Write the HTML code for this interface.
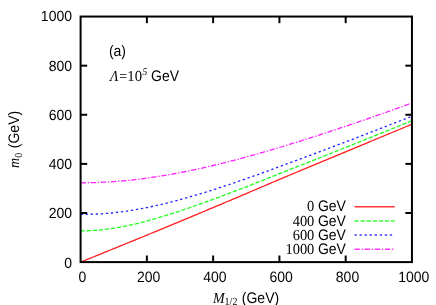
<!DOCTYPE html>
<html><head><meta charset="utf-8"><style>
html,body{margin:0;padding:0;background:#fff;overflow:hidden;}
svg{display:block;will-change:transform;opacity:0.999;}
text{font-family:"Liberation Sans",sans-serif;font-size:14px;fill:#000;text-rendering:geometricPrecision;}
.s{font-family:"Liberation Serif",serif;}
.si{font-family:"Liberation Serif",serif;font-style:italic;}
</style></head><body>
<svg width="436" height="305" viewBox="0 0 436 305">
<rect width="436" height="305" fill="#fff"/>
<polyline points="80.60,262.10 83.91,260.76 87.23,259.41 90.54,258.07 93.85,256.73 97.17,255.38 100.48,254.04 103.79,252.69 107.11,251.35 110.42,250.00 113.73,248.65 117.05,247.30 120.36,245.95 123.68,244.60 126.99,243.25 130.30,241.90 133.62,240.55 136.93,239.19 140.24,237.84 143.56,236.48 146.87,235.12 150.18,233.76 153.50,232.40 156.81,231.03 160.12,229.67 163.44,228.30 166.75,226.93 170.06,225.56 173.38,224.19 176.69,222.81 180.00,221.44 183.32,220.06 186.63,218.68 189.95,217.30 193.26,215.91 196.57,214.53 199.89,213.14 203.20,211.75 206.51,210.36 209.83,208.97 213.14,207.58 216.45,206.18 219.77,204.79 223.08,203.39 226.39,201.99 229.71,200.59 233.02,199.18 236.33,197.78 239.65,196.38 242.96,194.97 246.28,193.56 249.59,192.15 252.90,190.74 256.22,189.33 259.53,187.92 262.84,186.51 266.16,185.10 269.47,183.69 272.78,182.27 276.10,180.86 279.41,179.45 282.72,178.03 286.04,176.62 289.35,175.24 292.66,173.86 295.98,172.48 299.29,171.10 302.60,169.72 305.92,168.34 309.23,166.97 312.55,165.59 315.86,164.21 319.17,162.83 322.49,161.45 325.80,160.07 329.11,158.69 332.43,157.31 335.74,155.94 339.05,154.56 342.37,153.18 345.68,151.80 348.99,150.42 352.31,149.04 355.62,147.66 358.93,146.28 362.25,144.91 365.56,143.53 368.87,142.15 372.19,140.77 375.50,139.39 378.81,138.01 382.13,136.63 385.44,135.25 388.76,133.88 392.07,132.50 395.38,131.12 398.70,129.74 402.01,128.36 405.32,126.98 408.64,125.60 411.95,124.22" fill="none" stroke="#ff0000" stroke-width="1.3" stroke-opacity="0.88"/>
<polyline points="80.60,230.79 83.91,230.80 87.23,230.74 90.54,230.63 93.85,230.45 97.17,230.22 100.48,229.93 103.79,229.58 107.11,229.18 110.42,228.73 113.73,228.23 117.05,227.68 120.36,227.09 123.68,226.45 126.99,225.78 130.30,225.06 133.62,224.31 136.93,223.52 140.24,222.70 143.56,221.85 146.87,220.97 150.18,220.07 153.50,219.14 156.81,218.18 160.12,217.20 163.44,216.20 166.75,215.18 170.06,214.14 173.38,213.09 176.69,212.01 180.00,210.92 183.32,209.82 186.63,208.70 189.95,207.57 193.26,206.42 196.57,205.26 199.89,204.09 203.20,202.91 206.51,201.72 209.83,200.52 213.14,199.31 216.45,198.09 219.77,196.86 223.08,195.63 226.39,194.39 229.71,193.14 233.02,191.88 236.33,190.61 239.65,189.34 242.96,188.07 246.28,186.79 249.59,185.50 252.90,184.21 256.22,182.91 259.53,181.61 262.84,180.30 266.16,178.99 269.47,177.68 272.78,176.36 276.10,175.04 279.41,173.72 282.72,172.39 286.04,171.06 289.35,169.77 292.66,168.47 295.98,167.17 299.29,165.87 302.60,164.56 305.92,163.25 309.23,161.95 312.55,160.64 315.86,159.32 319.17,158.01 322.49,156.69 325.80,155.38 329.11,154.06 332.43,152.74 335.74,151.42 339.05,150.09 342.37,148.77 345.68,147.44 348.99,146.11 352.31,144.79 355.62,143.46 358.93,142.13 362.25,140.80 365.56,139.46 368.87,138.13 372.19,136.79 375.50,135.46 378.81,134.12 382.13,132.79 385.44,131.45 388.76,130.11 392.07,128.77 395.38,127.43 398.70,126.09 402.01,124.74 405.32,123.40 408.64,122.06 411.95,120.71" fill="none" stroke="#00ff00" stroke-width="1.3" stroke-opacity="0.88" stroke-dasharray="4.25 1.83"/>
<polyline points="80.60,214.34 83.91,214.36 87.23,214.33 90.54,214.27 93.85,214.16 97.17,214.02 100.48,213.84 103.79,213.62 107.11,213.36 110.42,213.06 113.73,212.73 117.05,212.36 120.36,211.96 123.68,211.52 126.99,211.04 130.30,210.54 133.62,210.00 136.93,209.43 140.24,208.83 143.56,208.20 146.87,207.55 150.18,206.86 153.50,206.15 156.81,205.41 160.12,204.65 163.44,203.87 166.75,203.06 170.06,202.23 173.38,201.38 176.69,200.51 180.00,199.62 183.32,198.71 186.63,197.78 189.95,196.83 193.26,195.87 196.57,194.89 199.89,193.90 203.20,192.89 206.51,191.86 209.83,190.82 213.14,189.77 216.45,188.71 219.77,187.63 223.08,186.54 226.39,185.44 229.71,184.33 233.02,183.21 236.33,182.08 239.65,180.94 242.96,179.79 246.28,178.63 249.59,177.47 252.90,176.29 256.22,175.11 259.53,173.92 262.84,172.72 266.16,171.52 269.47,170.31 272.78,169.10 276.10,167.88 279.41,166.65 282.72,165.42 286.04,164.18 289.35,162.97 292.66,161.76 295.98,160.55 299.29,159.33 302.60,158.11 305.92,156.88 309.23,155.65 312.55,154.42 315.86,153.18 319.17,151.94 322.49,150.69 325.80,149.45 329.11,148.20 332.43,146.94 335.74,145.69 339.05,144.43 342.37,143.17 345.68,141.90 348.99,140.64 352.31,139.37 355.62,138.10 358.93,136.82 362.25,135.55 365.56,134.27 368.87,132.99 372.19,131.71 375.50,130.42 378.81,129.14 382.13,127.85 385.44,126.56 388.76,125.27 392.07,123.98 395.38,122.68 398.70,121.39 402.01,120.09 405.32,118.79 408.64,117.49 411.95,116.19" fill="none" stroke="#0000ff" stroke-width="1.3" stroke-opacity="0.88" stroke-dasharray="2.3 2.75"/>
<polyline points="80.60,182.79 83.91,182.78 87.23,182.74 90.54,182.68 93.85,182.60 97.17,182.49 100.48,182.36 103.79,182.20 107.11,182.02 110.42,181.82 113.73,181.60 117.05,181.35 120.36,181.08 123.68,180.79 126.99,180.47 130.30,180.14 133.62,179.78 136.93,179.40 140.24,179.00 143.56,178.57 146.87,178.13 150.18,177.67 153.50,177.18 156.81,176.68 160.12,176.16 163.44,175.62 166.75,175.06 170.06,174.49 173.38,173.89 176.69,173.28 180.00,172.65 183.32,172.00 186.63,171.34 189.95,170.66 193.26,169.97 196.57,169.26 199.89,168.54 203.20,167.80 206.51,167.04 209.83,166.28 213.14,165.50 216.45,164.70 219.77,163.90 223.08,163.08 226.39,162.25 229.71,161.40 233.02,160.55 236.33,159.68 239.65,158.80 242.96,157.91 246.28,157.01 249.59,156.10 252.90,155.19 256.22,154.26 259.53,153.32 262.84,152.37 266.16,151.41 269.47,150.45 272.78,149.47 276.10,148.49 279.41,147.50 282.72,146.50 286.04,145.49 289.35,144.48 292.66,143.45 295.98,142.42 299.29,141.39 302.60,140.35 305.92,139.30 309.23,138.24 312.55,137.18 315.86,136.11 319.17,135.04 322.49,133.96 325.80,132.87 329.11,131.78 332.43,130.68 335.74,129.58 339.05,128.47 342.37,127.36 345.68,126.24 348.99,125.12 352.31,124.00 355.62,122.86 358.93,121.73 362.25,120.59 365.56,119.45 368.87,118.30 372.19,117.15 375.50,115.99 378.81,114.83 382.13,113.67 385.44,112.50 388.76,111.33 392.07,110.15 395.38,108.98 398.70,107.80 402.01,106.61 405.32,105.42 408.64,104.23 411.95,103.04" fill="none" stroke="#ff00ff" stroke-width="1.3" stroke-opacity="0.88" stroke-dasharray="5.3 1.8 1.3 1.73"/>

<g stroke="#000" stroke-width="2" fill="none">
<rect x="80.6" y="16.55" width="331.35" height="245.55"/>
<line x1="146.87" y1="262.1" x2="146.87" y2="255.50000000000003"/><line x1="146.87" y1="16.55" x2="146.87" y2="23.15"/>
<line x1="80.6" y1="212.99" x2="87.19999999999999" y2="212.99"/><line x1="411.95" y1="212.99" x2="405.34999999999997" y2="212.99"/>
<line x1="213.14" y1="262.1" x2="213.14" y2="255.50000000000003"/><line x1="213.14" y1="16.55" x2="213.14" y2="23.15"/>
<line x1="80.6" y1="163.88" x2="87.19999999999999" y2="163.88"/><line x1="411.95" y1="163.88" x2="405.34999999999997" y2="163.88"/>
<line x1="279.41" y1="262.1" x2="279.41" y2="255.50000000000003"/><line x1="279.41" y1="16.55" x2="279.41" y2="23.15"/>
<line x1="80.6" y1="114.77" x2="87.19999999999999" y2="114.77"/><line x1="411.95" y1="114.77" x2="405.34999999999997" y2="114.77"/>
<line x1="345.68" y1="262.1" x2="345.68" y2="255.50000000000003"/><line x1="345.68" y1="16.55" x2="345.68" y2="23.15"/>
<line x1="80.6" y1="65.66" x2="87.19999999999999" y2="65.66"/><line x1="411.95" y1="65.66" x2="405.34999999999997" y2="65.66"/>

</g>
<text transform="translate(72.00,267.70) scale(1.0,1.05)" text-anchor="end">0</text>
<text transform="translate(82.40,281.70) scale(1.0,1.07)" text-anchor="middle">0</text>
<text transform="translate(72.00,218.45) scale(1.0,1.05)" text-anchor="end">200</text>
<text transform="translate(148.67,281.70) scale(1.0,1.07)" text-anchor="middle">200</text>
<text transform="translate(72.00,169.20) scale(1.0,1.05)" text-anchor="end">400</text>
<text transform="translate(214.94,281.70) scale(1.0,1.07)" text-anchor="middle">400</text>
<text transform="translate(72.00,119.95) scale(1.0,1.05)" text-anchor="end">600</text>
<text transform="translate(281.21,281.70) scale(1.0,1.07)" text-anchor="middle">600</text>
<text transform="translate(72.00,70.70) scale(1.0,1.05)" text-anchor="end">800</text>
<text transform="translate(347.48,281.70) scale(1.0,1.07)" text-anchor="middle">800</text>
<text transform="translate(72.00,21.45) scale(1.0,1.05)" text-anchor="end">1000</text>
<text transform="translate(413.75,281.70) scale(1.0,1.07)" text-anchor="middle">1000</text>

<text transform="translate(314.30,211.30) scale(1.03,1.09)" class="s" text-anchor="end">0</text>
<text transform="translate(317.90,211.30) scale(1.0,1.09)">GeV</text>
<line x1="354.5" y1="206.80" x2="394.8" y2="206.80" stroke="#ff0000" stroke-width="1.5" stroke-opacity="0.78"/>
<text transform="translate(314.30,225.50) scale(1.03,1.09)" class="s" text-anchor="end">400</text>
<text transform="translate(317.90,225.50) scale(1.0,1.09)">GeV</text>
<line x1="354.5" y1="220.90" x2="394.8" y2="220.90" stroke="#00ff00" stroke-width="1.5" stroke-opacity="0.78" stroke-dasharray="4.25 1.83"/>
<text transform="translate(314.30,239.70) scale(1.03,1.09)" class="s" text-anchor="end">600</text>
<text transform="translate(317.90,239.70) scale(1.0,1.09)">GeV</text>
<line x1="354.5" y1="235.10" x2="394.8" y2="235.10" stroke="#0000ff" stroke-width="1.5" stroke-opacity="0.78" stroke-dasharray="2.3 2.75"/>
<text transform="translate(314.30,253.80) scale(1.03,1.09)" class="s" text-anchor="end">1000</text>
<text transform="translate(317.90,253.80) scale(1.0,1.09)">GeV</text>
<line x1="354.5" y1="249.20" x2="394.8" y2="249.20" stroke="#ff00ff" stroke-width="1.5" stroke-opacity="0.78" stroke-dasharray="5.3 1.8 1.3 1.73"/>

<text transform="translate(108.90,55.50) scale(1.0,1.09)">(a)</text>
<text transform="translate(110.00,80.50) scale(1.0,1.09)" class="si">Λ</text>
<text transform="translate(119.20,80.50) scale(1.0,1.09)" class="s">=</text>
<text transform="translate(127.30,80.50) scale(1.05,1.09)" class="s">10</text>
<text transform="translate(142.60,74.90) scale(1.0,1.09)" class="si" style="font-size:9.5px">5</text>
<text transform="translate(151.00,80.50) scale(1.0,1.09)">GeV</text>
<text transform="translate(212.90,302.70) scale(1.0,1.09)" class="si">M</text>
<text transform="translate(224.60,305.30) scale(1.0,1.09)" class="s" style="font-size:10px">1/2</text>
<text transform="translate(241.80,302.70) scale(1.0,1.09)">(GeV)</text>

<g transform="translate(19.0,0) rotate(-90)"><text transform="translate(-168.00,0.00) scale(1.0,1.09)" class="si">m</text>
<text transform="translate(-157.80,2.60) scale(1.0,1.09)" class="s" style="font-size:10px">0</text>
<text transform="translate(-148.20,0.00) scale(1.0,1.09)">(GeV)</text>
</g>

</svg>
</body></html>
